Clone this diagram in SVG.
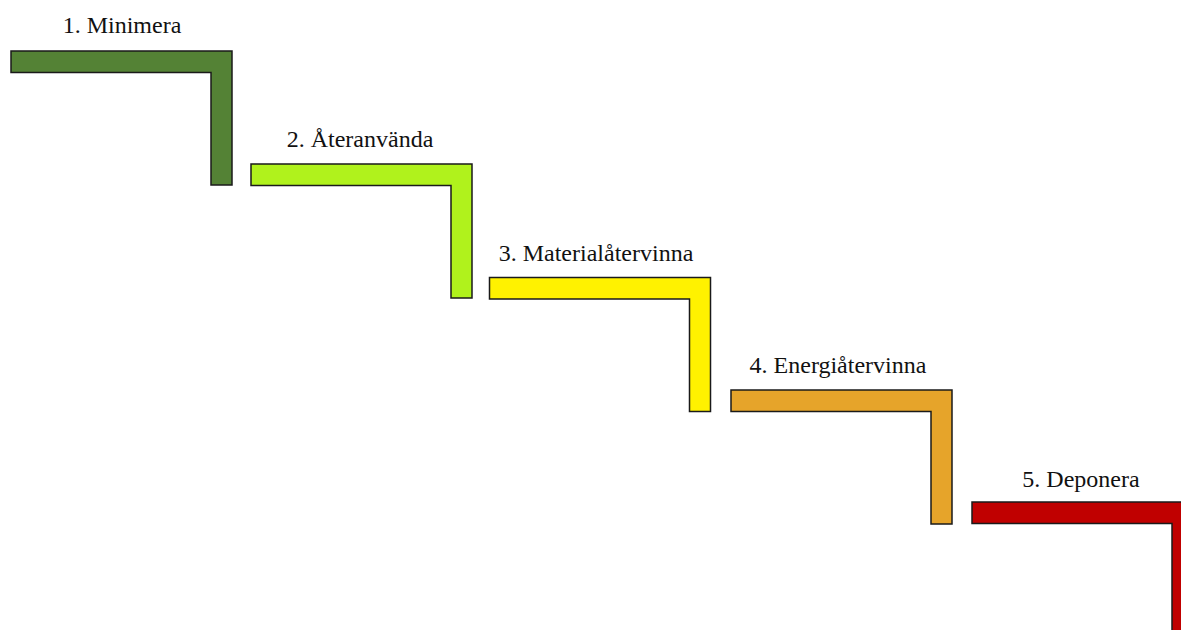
<svg xmlns="http://www.w3.org/2000/svg" width="1181" height="630" viewBox="0 0 1181 630">
<style>
.step{stroke:#1a1a1a;stroke-width:1.5;stroke-linejoin:miter}
.lbl{font-family:"Liberation Serif","Times New Roman",serif;font-size:24px;fill:#111;text-anchor:middle}
</style>
<defs>
<path id="L" d="M0,0 H221 V134 H200 V21.5 H0 Z"/>
</defs>
<rect width="1181" height="630" fill="#fff"/>
<g id="step1">
<use href="#L" class="step" fill="#548235" transform="translate(11,51)"/>
<text class="lbl" x="122" y="33">1. Minimera</text>
</g>
<g id="step2">
<use href="#L" class="step" fill="#B0F21C" transform="translate(251,164)"/>
<text class="lbl" x="360" y="147">2. Återanvända</text>
</g>
<g id="step3">
<use href="#L" class="step" fill="#FFF200" transform="translate(489.5,277.5)"/>
<text class="lbl" x="596" y="261">3. Materialåtervinna</text>
</g>
<g id="step4">
<use href="#L" class="step" fill="#E6A42A" transform="translate(731,390)"/>
<text class="lbl" x="838" y="373">4. Energiåtervinna</text>
</g>
<g id="step5">
<use href="#L" class="step" fill="#C00000" transform="translate(972,502)"/>
<text class="lbl" x="1081" y="487">5. Deponera</text>
</g>
<g id="connectors"/>
</svg>
